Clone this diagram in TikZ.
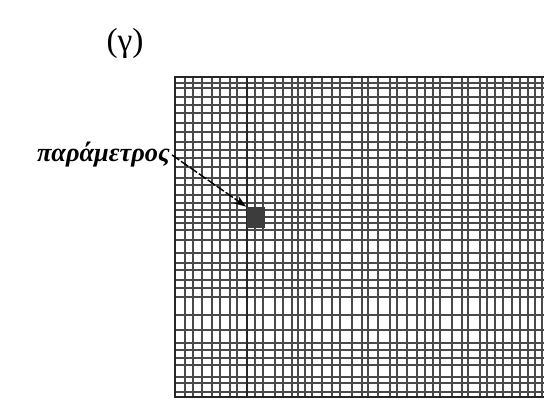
\documentclass[tikz,border=0pt]{standalone}
\usepackage{fontspec}
\setmainfont{Liberation Serif}
\usepackage{tikz}
\usetikzlibrary{arrows.meta}
\definecolor{gridline}{HTML}{4a4a4a}
\definecolor{cellfill}{HTML}{3c3c3c}

\begin{document}
\begin{tikzpicture}[x=0.02cm, y=-0.02cm,
    gridrule/.style={draw=gridline, line width=0.7pt},
    border/.style={draw=black!85, line width=1.3pt},
    pointer/.style={draw=black, line width=0.8pt, dashed, dash pattern=on 5pt off 1.2pt, -{Stealth[length=7pt,width=5pt]}}]
  \useasboundingbox (0,0) rectangle (544,403);

  % Grid sheet: x in [175, 544], y in [77, 397]
  \foreach \gx in {185,193,202,212,220,230,237,255,263,275,283,292,298,305,312,322,332,340,352,362,368,378,390,397,407,417,425,433,440,452,462,468,480,487,495,503,512,520,528,535,542} {
    \draw[gridrule] (\gx,77) -- (\gx,397);
  }
  \foreach \gy in {83,88,97,105,113,123,132,142,150,158,167,178,185,195,203,210,217,223,230,240,253,263,270,280,288,297,315,330,343,350,358,365,377,383,392} {
    \draw[gridrule] (175,\gy) -- (544,\gy);
  }
  \draw[border] (544,77) -- (175,77) -- (175,397) -- (544,397);
  \draw[border] (247,77) -- (247,397);

  % Labels and marked cell
  \node (lbl) at (125,43) {\fontsize{19pt}{21pt}\selectfont (γ)};
  \node[anchor=east, inner sep=1pt] (param) at (172,155) {\fontsize{15pt}{17pt}\selectfont\bfseries\itshape παράμετρος};
  \node[fill=cellfill, inner sep=0pt, minimum width=0.36cm, minimum height=0.42cm] (cell) at (255.5,217.5) {};
  \draw[pointer] (param.east) -- (cell.north west);
\end{tikzpicture}
\end{document}
